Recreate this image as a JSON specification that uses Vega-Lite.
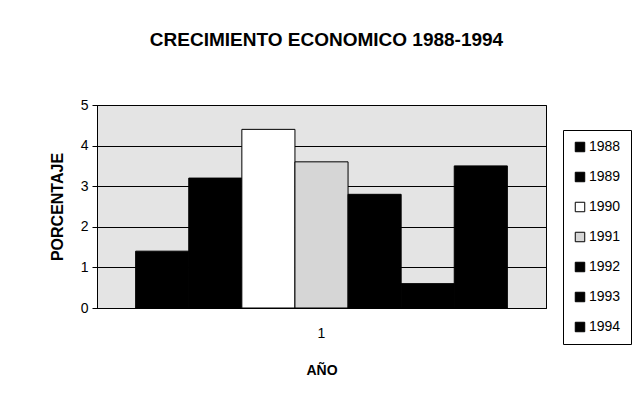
{
  "$schema": "https://vega.github.io/schema/vega-lite/v6.json",
  "autosize": "none",
  "width": 449,
  "height": 203,
  "padding": {"left": 97, "top": 105, "right": 91, "bottom": 107},
  "background": "#ffffff",
  "config": {
    "font": "Liberation Sans",
    "view": {"fill": "#e4e4e4", "stroke": "#000000", "strokeWidth": 1}
  },
  "title": {
    "text": "CRECIMIENTO ECONOMICO 1988-1994",
    "font": "Liberation Sans",
    "fontSize": 19,
    "fontWeight": "bold",
    "color": "#000000",
    "anchor": "middle",
    "offset": 48,
    "dx": 5
  },
  "data": {
    "values": [
      {"grupo": "1", "anio": "1988", "valor": 1.4},
      {"grupo": "1", "anio": "1989", "valor": 3.2},
      {"grupo": "1", "anio": "1990", "valor": 4.4},
      {"grupo": "1", "anio": "1991", "valor": 3.6},
      {"grupo": "1", "anio": "1992", "valor": 2.8},
      {"grupo": "1", "anio": "1993", "valor": 0.6},
      {"grupo": "1", "anio": "1994", "valor": 3.5}
    ]
  },
  "mark": {"type": "bar", "stroke": "#000000", "strokeWidth": 1},
  "encoding": {
    "x": {
      "field": "grupo",
      "type": "nominal",
      "scale": {"paddingInner": 0, "paddingOuter": 0.104},
      "axis": {
        "title": "AÑO",
        "titleFontSize": 14,
        "titleFontWeight": "bold",
        "titleColor": "#000000",
        "titlePadding": 23,
        "labelAngle": 0,
        "labelFontSize": 14,
        "labelColor": "#000000",
        "labelPadding": 18,
        "ticks": false,
        "domainColor": "#000000"
      }
    },
    "xOffset": {
      "field": "anio",
      "type": "nominal",
      "scale": {"paddingInner": 0, "paddingOuter": 0}
    },
    "y": {
      "field": "valor",
      "type": "quantitative",
      "scale": {"domain": [0, 5], "nice": false},
      "axis": {
        "title": "PORCENTAJE",
        "titleFontSize": 16,
        "titleFontWeight": "bold",
        "titleColor": "#000000",
        "titlePadding": 15,
        "values": [0, 1, 2, 3, 4, 5],
        "labelFontSize": 14,
        "labelColor": "#000000",
        "labelPadding": 4,
        "tickColor": "#000000",
        "tickSize": 5,
        "domainColor": "#000000",
        "grid": true,
        "gridColor": "#000000",
        "gridWidth": 1,
        "gridOpacity": 1
      }
    },
    "fill": {
      "field": "anio",
      "type": "nominal",
      "scale": {
        "domain": ["1988", "1989", "1990", "1991", "1992", "1993", "1994"],
        "range": ["#000000", "#000000", "#ffffff", "#d6d6d6", "#000000", "#000000", "#000000"]
      },
      "legend": {
        "title": null,
        "orient": "none",
        "legendX": 466,
        "legendY": 25,
        "symbolType": "square",
        "symbolSize": 90,
        "symbolStrokeColor": "#000000",
        "symbolStrokeWidth": 1,
        "labelFontSize": 14,
        "labelColor": "#000000",
        "labelOffset": 2,
        "rowPadding": 16,
        "strokeColor": "#000000",
        "padding": 10,
        "fillColor": "#ffffff"
      }
    }
  }
}
